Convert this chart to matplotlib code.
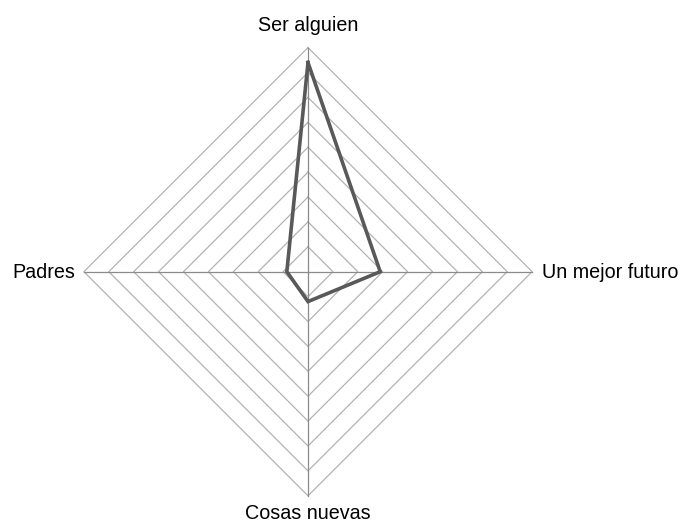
import numpy as np
import matplotlib
matplotlib.use("Agg")
import matplotlib.pyplot as plt

categories = ["Ser alguien", "Un mejor futuro", "Cosas nuevas", "Padres"]
values = [8.4, 2.9, 1.2, 0.85]
n_rings = 9

plt.rcParams['font.family'] = ['Liberation Sans', 'DejaVu Sans']

W, H = 681, 524
cx, cy = 308, 271.7
s = 24.9  # pixels per ring

fig = plt.figure(figsize=(W/100, H/100), dpi=100)
ax = fig.add_axes([0, 0, 1, 1])
ax.set_xlim(-cx/s, (W-cx)/s)
ax.set_ylim(-(H-cy)/s, cy/s)
ax.axis('off')

angles = np.pi/2 - np.arange(len(categories)) * 2*np.pi/len(categories)
dx, dy = np.cos(angles), np.sin(angles)

# grid rings
for r in range(1, n_rings+1):
    xs = np.append(r*dx, r*dx[0])
    ys = np.append(r*dy, r*dy[0])
    ax.plot(xs, ys, color='#b3b3b3', lw=0.9, zorder=1)
# spokes
for i in range(len(categories)):
    ax.plot([0, n_rings*dx[i]], [0, n_rings*dy[i]], color='#8a8a8a', lw=0.9, zorder=2)

v = np.array(values)
xs = np.append(v*dx, v[0]*dx[0])
ys = np.append(v*dy, v[0]*dy[0])
ax.plot(xs, ys, color='#595959', lw=2.6, zorder=3, solid_joinstyle='miter')

fs = 14.2
def py(p):
    return (cy - p) / s
def px(p):
    return (p - cx) / s

ax.text(0, py(31), categories[0], ha='center', va='baseline', fontsize=fs)
ax.text(px(542), py(277.5), categories[1], ha='left', va='baseline', fontsize=fs)
ax.text(0, py(519), categories[2], ha='center', va='baseline', fontsize=fs)
ax.text(px(75), py(277.5), categories[3], ha='right', va='baseline', fontsize=fs)

fig.savefig("out.png", dpi=100)
